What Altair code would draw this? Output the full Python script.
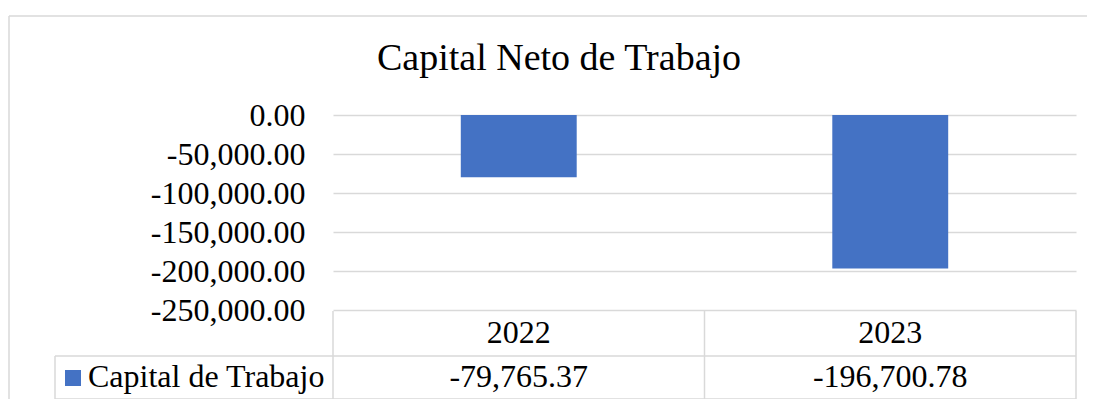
import altair as alt
import pandas as pd

# ---- data ----
years = ["2022", "2023"]
values = [-79765.37, -196700.78]
series_name = "Capital de Trabajo"
chart_title = "Capital Neto de Trabajo"
y_ticks = [0, -50000, -100000, -150000, -200000, -250000]
y_domain = [-250000, 0]

BLUE = "#4472C4"
GRID = "#d9d9d9"
FONT = "Liberation Serif"

df = pd.DataFrame({
    "year": years,
    "value": values,
    "label": [f"{v:,.2f}" for v in values],
})

x_scale = alt.Scale(domain=years, paddingInner=0, paddingOuter=0)


def xenc(band_pos=None):
    if band_pos is None:
        return alt.X("year:N", sort=years, scale=x_scale, axis=None)
    return alt.X("year:N", sort=years, scale=x_scale, axis=None, bandPosition=band_pos)


base = alt.Chart(df)
one = pd.DataFrame({"k": [0]})

# outer chart-area frame (only top and left edges fall inside the picture)
frame_top = alt.Chart(one).mark_rule(color=GRID, strokeWidth=1.5).encode(
    x=alt.value(-324), x2=alt.value(760), y=alt.value(-99)
)
frame_left = alt.Chart(one).mark_rule(color=GRID, strokeWidth=1.5).encode(
    x=alt.value(-324), y=alt.value(-99), y2=alt.value(400)
)

bars = base.mark_bar(color=BLUE, width=alt.RelativeBandSize(0.312)).encode(
    x=xenc(),
    y=alt.Y(
        "value:Q",
        scale=alt.Scale(domain=y_domain, nice=False, zero=False),
        axis=alt.Axis(
            values=y_ticks, title=None, grid=True, gridColor=GRID, gridWidth=1.5,
            ticks=False, tickSize=0, domain=False, labelFont=FONT, labelFontSize=32,
            labelColor="black", labelPadding=28,
            labelExpr="(datum.value < 0 ? '-' : '') + format(abs(datum.value), ',.2f')",
        ),
    ),
    y2=alt.datum(0),
)

vlines = base.mark_rule(color=GRID, strokeWidth=1.5).encode(
    x=xenc(0), y=alt.value(196), y2=alt.value(284)
)
vline_end = base.transform_filter(alt.datum.year == years[-1]).mark_rule(
    color=GRID, strokeWidth=1.5
).encode(x=xenc(1), y=alt.value(196), y2=alt.value(284))

hline_mid = alt.Chart(one).mark_rule(color=GRID, strokeWidth=1.5).encode(
    x=alt.value(-278), x2=alt.value(743), y=alt.value(241)
)
hline_bot = alt.Chart(one).mark_rule(color=GRID, strokeWidth=1.5).encode(
    x=alt.value(-278), x2=alt.value(743), y=alt.value(284)
)
vline_lab = alt.Chart(one).mark_rule(color=GRID, strokeWidth=1.5).encode(
    x=alt.value(-278), y=alt.value(241), y2=alt.value(284)
)

year_text = base.mark_text(font=FONT, fontSize=32, color="black", baseline="middle").encode(
    x=xenc(), y=alt.value(218), text="year:N"
)
value_text = base.mark_text(font=FONT, fontSize=32, color="black", baseline="middle").encode(
    x=xenc(), y=alt.value(262), text="label:N"
)

title = alt.Chart(pd.DataFrame({"t": [chart_title]})).mark_text(
    font=FONT, fontSize=38, color="black", align="center", baseline="alphabetic"
).encode(x=alt.value(226), y=alt.value(-45), text="t:N")

legend_df = pd.DataFrame({"s": [series_name]})
legend_sq = alt.Chart(legend_df).mark_square(color=BLUE, size=256, opacity=1).encode(
    x=alt.value(-260), y=alt.value(263)
)
legend_txt = alt.Chart(legend_df).mark_text(
    font=FONT, fontSize=32, color="black", align="left", baseline="middle"
).encode(x=alt.value(-245), y=alt.value(262), text="s:N")

chart = alt.layer(
    frame_top, frame_left, bars, vlines, vline_end, hline_mid, hline_bot, vline_lab,
    year_text, value_text, title, legend_sq, legend_txt,
).properties(
    width=743,
    height=195,
    padding={"left": 325, "top": 107, "right": 11, "bottom": 89},
    autosize=alt.AutoSizeParams(type="none"),
).configure_view(stroke=None)

chart.save("out.html", embed_options={"renderer": "svg", "actions": False})
